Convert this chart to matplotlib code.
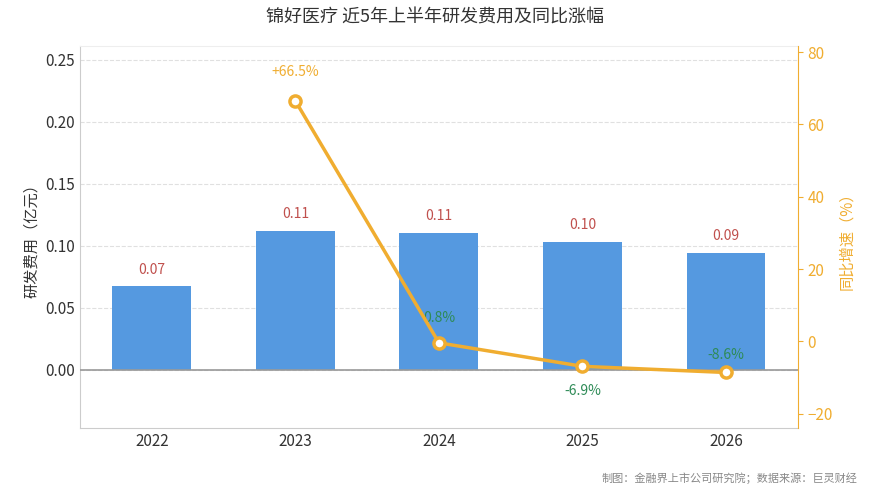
import matplotlib
matplotlib.use("Agg")
import matplotlib.pyplot as plt

plt.rcParams['font.family'] = ['Noto Sans CJK SC', 'DejaVu Sans']

years = ['2022', '2023', '2024', '2025', '2026']
rd = [0.067, 0.112, 0.110, 0.103, 0.094]
rd_labels = ['0.07', '0.11', '0.11', '0.10', '0.09']
growth = [None, 66.5, -0.4, -6.9, -8.6]
growth_labels = [None, '+66.5%', '0.8%', '-6.9%', '-8.6%']

fig = plt.figure(figsize=(8.7, 4.94), dpi=100)
ax = fig.add_axes([0.092, 0.134, 0.825, 0.773])
x = list(range(len(years)))
ax.bar(x, rd, width=0.55, color='#5599e0', zorder=2)
for i, v in enumerate(rd):
    ax.text(i, v + 0.008, rd_labels[i], ha='center', va='bottom', color='#c0504d', fontsize=10)
ax.set_ylim(-0.047, 0.261)
ax.set_yticks([0, 0.05, 0.10, 0.15, 0.20, 0.25])
ax.set_yticklabels(['0.00', '0.05', '0.10', '0.15', '0.20', '0.25'])
ax.set_xlim(-0.5, 4.5)
ax.set_xticks(x)
ax.set_xticklabels(years)
ax.axhline(0, color='#999999', lw=1.2, zorder=3)
ax.grid(axis='y', ls='--', color='#e0e0e0', zorder=0)
ax.set_ylabel('研发费用（亿元）', fontsize=11, color='#333333')
ax.tick_params(axis='both', labelsize=11, colors='#333333', length=0)
ax.spines['right'].set_visible(False)
ax.spines['top'].set_color('#eeeeee')
ax.spines['left'].set_color('#cccccc')
ax.spines['bottom'].set_color('#cccccc')

ax2 = ax.twinx()
gx = [i for i, g in enumerate(growth) if g is not None]
gy = [g for g in growth if g is not None]
ax2.plot(gx, gy, color='#f0ad30', lw=2.5, marker='o', ms=8, mfc='white', mec='#f0ad30', mew=2.5, zorder=5)
ax2.set_ylim(-23.9, 81.7)
ax2.set_yticks([-20, 0, 20, 40, 60, 80])
ax2.tick_params(axis='y', colors='#f0ad30', labelsize=11)
ax2.set_ylabel('同比增速（%）', color='#f0ad30', fontsize=11)
for s in ['top', 'left', 'bottom']:
    ax2.spines[s].set_visible(False)
ax2.spines['right'].set_color('#f0ad30')
offs = {1: 6, 2: 5, 3: -5, 4: 3}
for i, g in enumerate(growth):
    if g is None:
        continue
    c = '#f0ad30' if g > 30 else '#2e8b57'
    dy = offs[i]
    ax2.text(i, g + dy, growth_labels[i], ha='center', va='bottom' if dy > 0 else 'top', color=c, fontsize=10)

fig.text(0.5, 0.955, '锦好医疗 近5年上半年研发费用及同比涨幅', ha='center', fontsize=13, color='#333333')
fig.text(0.985, 0.025, '制图：金融界上市公司研究院；数据来源：巨灵财经', ha='right', fontsize=8, color='#888888')
fig.savefig('out.png', dpi=100)
